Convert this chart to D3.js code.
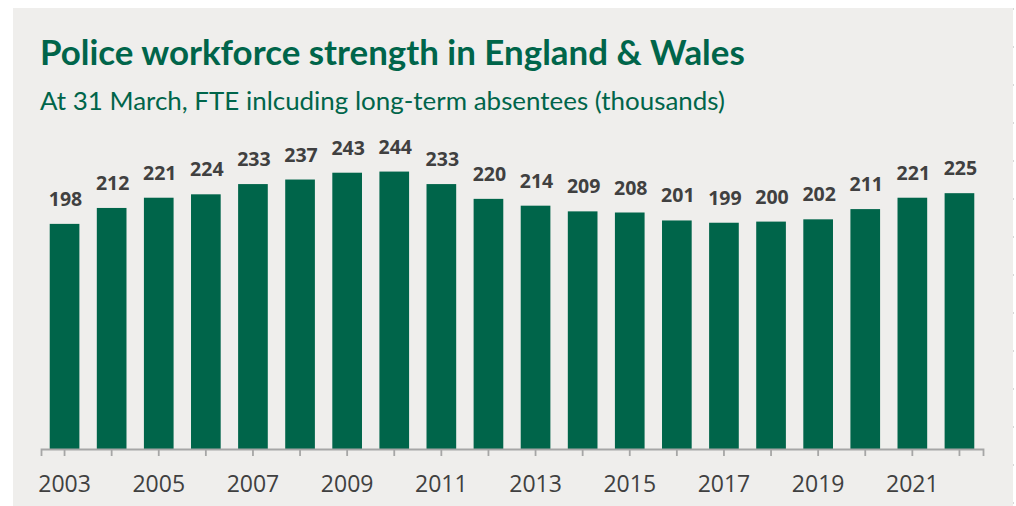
<!DOCTYPE html>
<html>
<head>
<meta charset="utf-8">
<script src="https://cdn.jsdelivr.net/npm/d3@7/dist/d3.min.js"></script>
<style>
  html, body { margin: 0; padding: 0; background: #ffffff; }
  svg { display: block; }
</style>
</head>
<body>
<svg id="chart" width="1016" height="506"></svg>
<script>
// Police workforce strength, England & Wales, at 31 March (FTE, thousands)
const years = [2003, 2004, 2005, 2006, 2007, 2008, 2009, 2010, 2011, 2012,
               2013, 2014, 2015, 2016, 2017, 2018, 2019, 2020, 2021, 2022];
const strength = [198, 212, 221, 224, 233, 237, 243, 244, 233, 220,
                  214, 209, 208, 201, 199, 200, 202, 211, 221, 225];
const tickYears = [2003, 2005, 2007, 2009, 2011, 2013, 2015, 2017, 2019, 2021];

const titleText = "Police workforce strength in England & Wales";
const subtitleText = "At 31 March, FTE inlcuding long-term absentees (thousands)";

const W = 1016, H = 506;
const green = "#00654a";
const ink = "#404040";
const axisGrey = "#a6a6a6";

const svg = d3.select("#chart");

// panel background
svg.append("rect")
  .attr("x", 13).attr("y", 8)
  .attr("width", 1000).attr("height", H - 8)
  .attr("fill", "#efeeec");

svg.append("line")
  .attr("x1", 1013.5).attr("x2", 1013.5)
  .attr("y1", 8).attr("y2", H)
  .attr("stroke", "#d8d8d8")
  .attr("stroke-dasharray", "2 36");

// title and subtitle, fitted to their line widths
function fitText(sel, target) {
  const len = sel.node().getComputedTextLength();
  const size = parseFloat(sel.attr("font-size"));
  sel.attr("font-size", (size * target / len).toFixed(2));
}

const title = svg.append("text")
  .attr("x", 40).attr("y", 65)
  .attr("font-family", "Lato, 'Open Sans', sans-serif")
  .attr("font-weight", 700)
  .attr("font-size", 30)
  .attr("fill", green)
  .text(titleText);
fitText(title, 705);

const subtitle = svg.append("text")
  .attr("x", 40).attr("y", 110)
  .attr("font-family", "Lato, 'Open Sans', sans-serif")
  .attr("font-weight", 400)
  .attr("font-size", 22)
  .attr("fill", green)
  .text(subtitleText);
fitText(subtitle, 685);

// scales
const x = d3.scaleBand()
  .domain(years)
  .range([41, 983])
  .paddingInner(0.37)
  .paddingOuter(0.185);

const baseY = 449;
const y = d3.scaleLinear()
  .domain([0, 250])
  .range([baseY, baseY - 250 * 1.137]);

// bars
svg.append("g")
  .selectAll("rect")
  .data(years)
  .join("rect")
  .attr("x", d => x(d))
  .attr("width", x.bandwidth())
  .attr("y", (d, i) => y(strength[i]))
  .attr("height", (d, i) => y(0) - y(strength[i]))
  .attr("fill", green);

// value labels
svg.append("g")
  .selectAll("text")
  .data(years)
  .join("text")
  .attr("x", d => x(d) + x.bandwidth() / 2 + 1)
  .attr("y", (d, i) => y(strength[i]) - 18)
  .attr("text-anchor", "middle")
  .attr("font-family", "'Open Sans', sans-serif")
  .attr("font-weight", 700)
  .attr("font-size", 19.5)
  .attr("fill", ink)
  .text((d, i) => strength[i]);

// x axis
const xAxis = d3.axisBottom(x)
  .tickValues(years)
  .tickSize(7)
  .tickSizeOuter(7)
  .tickFormat(d => tickYears.includes(d) ? d : "");

const gx = svg.append("g")
  .attr("transform", `translate(0,${baseY})`)
  .call(xAxis);

gx.select(".domain")
  .attr("stroke", axisGrey)
  .attr("stroke-width", 1.8);
gx.selectAll(".tick line")
  .attr("stroke", axisGrey)
  .attr("stroke-width", 1.8);
gx.selectAll(".tick text")
  .attr("y", 27)
  .attr("dy", "0.71em")
  .attr("font-family", "'Open Sans', sans-serif")
  .attr("font-size", 23)
  .attr("fill", ink);
</script>
</body>
</html>
